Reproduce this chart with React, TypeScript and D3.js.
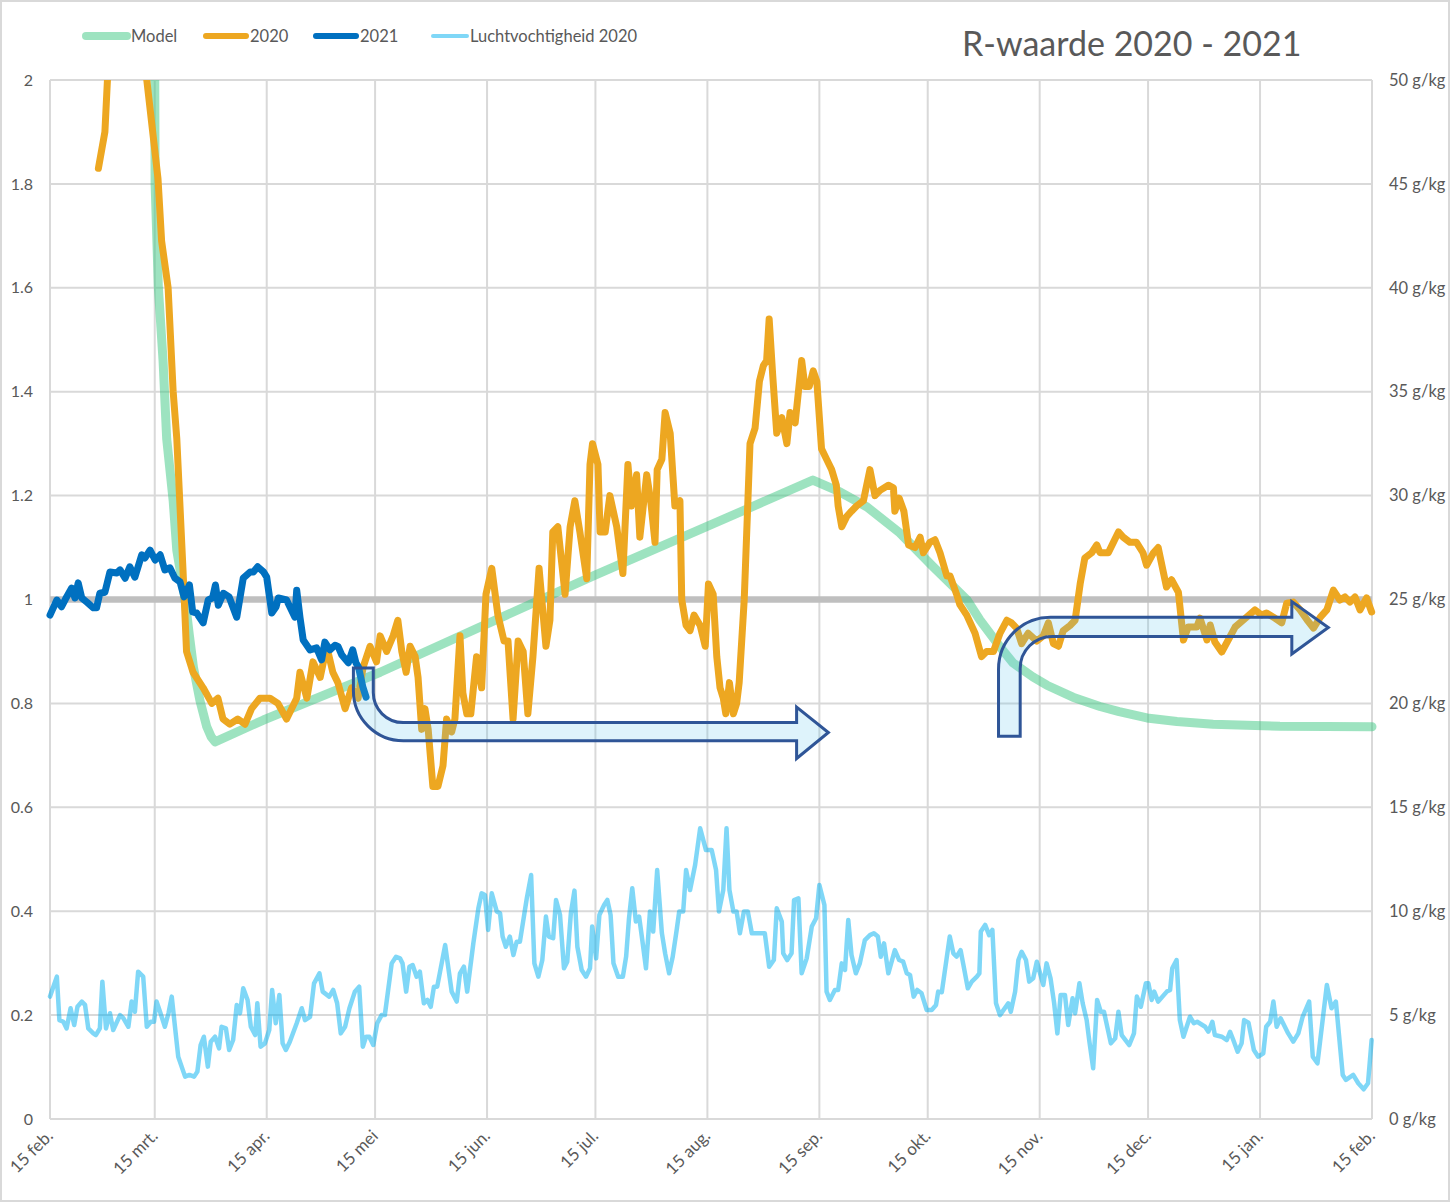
import React from 'react';
import * as d3 from 'd3';

// day offsets are counted from 15 feb. 2020
const startDate = new Date(2020, 1, 15);
const monthLabels = ['15 feb.', '15 mrt.', '15 apr.', '15 mei', '15 jun.', '15 jul.', '15 aug.', '15 sep.', '15 okt.', '15 nov.', '15 dec.', '15 jan.', '15 feb.'];

const legendNames = ['Model', '2020', '2021', 'Luchtvochtigheid 2020'];

// [day, R]
const model: [number, number][] = [
  [28.3, 2.5], [29.0, 2.0], [29.1, 1.8], [30.0, 1.6], [31.3, 1.46], [32.3, 1.31], [34.1, 1.19], [35.1, 1.095],
  [37.4, 1.0], [38.6, 0.93], [39.7, 0.87], [41.5, 0.806], [43.4, 0.755], [44.6, 0.736], [45.7, 0.726], [59.1, 0.768],
  [91.4, 0.86], [150.9, 1.047], [192.9, 1.174], [211.2, 1.23], [218.7, 1.207], [226.2, 1.178],
  [235.3, 1.128], [244.5, 1.063], [253.9, 0.999], [257.5, 0.96], [263.0, 0.909], [266.6, 0.878],
  [272.1, 0.851], [276.0, 0.835], [283.2, 0.812], [290.7, 0.794], [296.0, 0.784], [303.7, 0.772],
  [312, 0.765], [322, 0.76], [340.5, 0.756], [366, 0.755],
];

const r2020: [number, number][] = [
  [13.4, 1.83], [15.2, 1.9], [15.9, 2.0], [17.5, 2.6], [25, 2.6], [26.8, 2.0], [29.9, 1.81], [30.9, 1.69],
  [32.7, 1.6], [34.1, 1.4], [35.1, 1.31], [36.8, 1.06], [37.8, 0.9], [39.6, 0.86], [42.4, 0.83], [44.8, 0.8],
  [46.5, 0.81], [47.9, 0.77], [49.8, 0.76], [52.0, 0.77], [54.0, 0.76], [55.8, 0.79], [58.1, 0.81], [60.9, 0.81],
  [63.1, 0.8], [65.5, 0.77], [68.3, 0.81], [69.2, 0.86], [71.1, 0.81], [72.8, 0.88], [74.8, 0.85], [76.6, 0.91],
  [78.3, 0.86], [79.7, 0.84], [81.7, 0.79], [83.5, 0.83], [85.3, 0.81], [86.7, 0.87], [88.6, 0.91], [90.4, 0.88],
  [91.4, 0.93], [93.2, 0.9], [95.0, 0.93], [96.3, 0.96], [97.4, 0.9], [98.6, 0.86], [99.7, 0.91], [101.1, 0.89],
  [101.9, 0.85], [102.9, 0.75], [103.8, 0.79], [104.7, 0.75], [106.0, 0.64], [107.4, 0.64], [108.8, 0.68],
  [109.8, 0.77], [111.2, 0.745], [112.1, 0.77], [113.5, 0.93], [114.3, 0.82], [115.4, 0.78], [116.5, 0.78],
  [118.1, 0.89], [119.5, 0.83], [120.7, 1.01], [122.3, 1.06], [124.0, 0.97], [125.7, 0.92], [126.8, 0.92],
  [128.2, 0.77], [129.6, 0.92], [131.0, 0.9], [132.3, 0.78], [133.7, 0.89], [135.4, 1.06], [137.3, 0.91],
  [138.4, 0.96], [139.2, 1.13], [140.6, 1.14], [142.6, 1.01], [144.0, 1.14], [145.3, 1.19], [146.7, 1.13],
  [148.6, 1.04], [149.5, 1.26], [150.2, 1.3], [151.7, 1.26], [152.3, 1.13], [153.7, 1.13], [155.0, 1.2],
  [156.9, 1.14], [158.6, 1.05], [160.0, 1.26], [161.0, 1.18], [162.4, 1.24], [163.3, 1.12], [165.2, 1.24],
  [166.3, 1.19], [167.5, 1.11], [168.1, 1.25], [169.4, 1.27], [170.3, 1.36], [171.7, 1.32], [173.0, 1.18],
  [174.4, 1.19], [174.9, 1.0], [176.1, 0.95], [177.2, 0.94], [178.3, 0.97], [180.0, 0.95], [181.4, 0.91],
  [182.3, 1.03], [183.6, 1.01], [184.6, 0.89], [185.5, 0.83], [186.4, 0.81], [187.1, 0.78], [188.1, 0.84],
  [189.2, 0.78], [190.1, 0.8], [190.8, 0.84], [192.2, 1.0], [193.8, 1.3], [195.2, 1.33], [196.4, 1.42],
  [197.5, 1.45], [198.4, 1.46], [199.1, 1.54], [200.1, 1.43], [201.2, 1.32], [202.6, 1.35], [204.0, 1.3],
  [204.9, 1.36], [206.3, 1.34], [208.1, 1.46], [209.0, 1.41], [210.2, 1.41], [211.3, 1.44], [212.3, 1.42],
  [213.6, 1.29], [215.0, 1.27], [216.4, 1.25], [217.7, 1.22], [218.2, 1.18], [219.2, 1.14], [220.6, 1.16],
  [221.9, 1.17], [223.3, 1.18], [225.2, 1.19], [227.0, 1.25], [228.4, 1.2], [229.8, 1.21], [232.1, 1.22],
  [233.5, 1.215], [233.9, 1.17], [235.1, 1.195], [236.4, 1.17], [237.7, 1.105], [239.5, 1.1], [240.9, 1.12],
  [241.8, 1.09], [243.6, 1.11], [245.0, 1.115], [246.4, 1.09], [248.3, 1.045], [249.2, 1.045], [251.0, 1.01],
  [251.9, 0.99], [253.8, 0.97], [256.1, 0.935], [257.9, 0.89], [259.3, 0.9], [261.2, 0.9], [263.0, 0.935],
  [264.9, 0.96], [266.2, 0.955], [267.6, 0.945], [269.0, 0.915], [270.8, 0.935], [273.2, 0.92], [275.0, 0.93],
  [276.4, 0.955], [277.8, 0.915], [279.2, 0.91], [280.5, 0.94], [282.4, 0.95], [283.8, 0.96], [285.2, 1.03],
  [286.5, 1.08], [288.4, 1.09], [289.8, 1.105], [290.7, 1.09], [293.0, 1.09], [294.4, 1.11], [295.8, 1.13],
  [297.1, 1.12], [299.0, 1.11], [300.8, 1.11], [302.6, 1.09], [303.6, 1.066], [305.5, 1.09], [306.8, 1.1],
  [309.1, 1.024], [310.5, 1.038], [312.4, 1.014], [313.8, 0.922], [315.1, 0.947], [317.5, 0.947], [318.4, 0.964],
  [320.3, 0.922], [321.2, 0.951], [322.5, 0.918], [324.4, 0.899], [326.2, 0.922], [328.1, 0.947], [331.3, 0.966],
  [333.6, 0.98], [335.4, 0.97], [336.8, 0.974], [338.7, 0.966], [341.0, 0.955], [342.4, 0.993], [344.2, 0.995],
  [346.1, 0.98], [348.0, 0.961], [349.8, 0.945], [351.7, 0.966], [353.5, 0.98], [355.3, 1.018], [357.1, 0.999],
  [358.5, 1.005], [359.9, 0.995], [361.3, 1.005], [362.7, 0.98], [364.5, 1.003], [365.9, 0.976],
];

const r2021: [number, number][] = [
  [0, 0.97], [1.9, 0.999], [3.2, 0.986], [4.6, 1.005], [6.0, 1.022], [6.9, 1.003], [7.8, 1.032], [8.8, 1.003],
  [10.2, 0.995], [12.0, 0.984], [12.9, 0.984], [13.8, 1.012], [15.2, 1.014], [16.6, 1.053], [18.5, 1.051],
  [19.4, 1.057], [20.8, 1.041], [22.1, 1.063], [23.5, 1.043], [25.4, 1.086], [26.3, 1.08], [27.7, 1.095],
  [29.1, 1.076], [30.5, 1.086], [31.8, 1.057], [33.2, 1.061], [34.6, 1.041], [36.0, 1.034], [37.1, 1.005],
  [38.6, 1.028], [39.5, 0.976], [40.6, 0.974], [42.4, 0.955], [43.8, 0.999], [45.0, 1.003], [45.8, 1.028],
  [46.6, 0.989], [48.0, 1.012], [49.6, 1.005], [51.7, 0.966], [53.5, 1.041], [55.4, 1.053], [56.3, 1.053],
  [57.5, 1.063], [59.1, 1.053], [60.0, 1.043], [61.4, 0.974], [62.6, 0.986], [63.2, 1.003], [65.5, 0.999],
  [66.4, 0.986], [67.8, 0.966], [68.3, 1.018], [69.2, 0.966], [70.1, 0.922], [72.0, 0.903], [73.8, 0.907],
  [75.2, 0.884], [76.1, 0.918], [77.5, 0.903], [78.9, 0.912], [79.8, 0.909], [80.8, 0.893], [82.6, 0.878],
  [83.8, 0.903], [84.7, 0.878], [85.4, 0.87], [86.6, 0.832], [87.5, 0.812],
];

// [day, g/kg]
const humidity2020: [number, number][] = [
  [0, 5.89], [1.9, 6.85], [2.6, 4.76], [3.7, 4.68], [4.6, 4.36], [5.7, 5.33], [6.7, 4.52], [7.6, 5.4], [8.8, 5.65],
  [9.7, 5.49], [10.6, 4.36], [12.0, 4.12], [12.7, 4.04], [13.8, 4.36], [14.5, 6.61], [15.5, 4.36], [16.6, 5.09],
  [17.5, 4.28], [19.4, 5.0], [20.3, 4.85], [21.7, 4.44], [22.6, 5.65], [23.5, 5.16], [24.4, 7.09], [25.8, 6.85],
  [26.8, 4.44], [27.9, 4.68], [28.8, 4.68], [29.5, 5.65], [30.6, 5.09], [31.8, 4.44], [32.8, 5.09], [33.7, 5.89],
  [34.6, 4.44], [35.5, 3.0], [37.4, 2.04], [38.6, 2.12], [39.9, 2.04], [40.8, 2.28], [41.7, 3.56], [42.6, 3.96],
  [43.7, 2.52], [44.5, 3.72], [45.7, 3.96], [46.8, 3.4], [47.5, 4.44], [48.7, 4.36], [49.6, 3.32], [50.7, 3.8],
  [51.7, 5.49], [52.6, 5.09], [53.5, 6.29], [54.7, 5.73], [55.6, 4.44], [56.8, 4.04], [57.4, 5.57], [58.3, 3.48],
  [59.5, 3.64], [60.7, 4.28], [61.5, 6.21], [62.5, 4.61], [63.5, 5.97], [64.4, 3.64], [65.3, 3.32], [66.4, 3.72],
  [68.3, 4.61], [69.7, 5.33], [70.6, 4.76], [72.0, 4.92], [73.1, 6.53], [74.6, 7.01], [75.5, 6.13], [77.3, 5.89],
  [78.4, 6.21], [79.5, 5.57], [80.5, 4.12], [81.7, 4.44], [82.9, 5.33], [84.4, 6.13], [85.6, 6.37], [86.6, 3.48],
  [87.5, 3.96], [88.4, 3.96], [89.5, 3.56], [90.6, 4.61], [91.8, 5.0], [92.7, 5.0], [94.6, 7.49], [95.8, 7.81],
  [96.9, 7.73], [97.6, 7.49], [98.6, 6.13], [99.5, 7.33], [100.4, 7.41], [101.5, 6.85], [102.4, 7.09], [103.5, 5.57],
  [104.5, 5.73], [105.4, 5.4], [106.3, 6.37], [107.2, 6.37], [109.4, 8.37], [111.2, 6.13], [112.6, 5.65],
  [113.5, 7.01], [114.6, 7.33], [115.5, 6.13], [117.2, 8.45], [118.6, 10.14], [119.5, 10.86], [120.4, 10.78],
  [121.3, 9.1], [122.3, 10.86], [123.7, 9.98], [124.6, 9.9], [125.3, 8.78], [126.2, 8.29], [127.3, 8.78],
  [128.3, 7.89], [129.2, 8.53], [130.1, 8.53], [132.0, 10.62], [133.2, 11.74], [134.1, 7.49], [135.2, 6.85],
  [136.3, 7.65], [137.3, 9.74], [138.1, 8.78], [139.3, 8.7], [140.1, 10.54], [141.2, 9.82], [142.3, 7.25],
  [143.2, 7.57], [144.2, 9.9], [145.2, 10.99], [146.0, 8.29], [147.2, 7.17], [148.4, 6.85], [149.5, 7.25],
  [150.1, 9.26], [151.2, 7.73], [152.1, 9.82], [153.4, 10.3], [154.3, 10.54], [155.2, 9.82], [156.0, 7.49],
  [157.3, 6.85], [158.6, 6.85], [159.5, 7.81], [160.3, 9.66], [161.2, 11.1], [162.2, 9.5], [163.1, 9.74],
  [164.1, 8.45], [165.0, 7.25], [166.1, 9.98], [167.0, 9.02], [168.1, 11.98], [169.4, 8.94], [170.3, 7.97],
  [171.4, 7.01], [172.4, 7.81], [173.5, 9.1], [174.2, 9.98], [175.3, 9.98], [176.1, 11.98], [177.2, 11.02],
  [178.6, 12.22], [180.0, 13.99], [181.6, 12.94], [183.2, 12.94], [184.4, 11.98], [185.2, 9.98], [186.4, 11.02],
  [187.3, 13.99], [188.1, 11.02], [189.2, 9.98], [190.1, 9.98], [191.0, 8.94], [192.1, 9.98], [193.2, 9.98],
  [194.3, 8.94], [197.9, 8.94], [199.1, 7.33], [200.4, 7.65], [201.2, 10.14], [202.6, 9.5], [203.0, 7.97],
  [204.1, 7.65], [205.3, 7.97], [206.0, 10.54], [207.2, 10.62], [208.1, 7.01], [209.5, 7.73], [210.9, 9.26],
  [212.1, 9.66], [213.0, 11.26], [214.4, 10.3], [215.0, 6.13], [215.9, 5.73], [217.3, 6.21], [218.2, 6.21],
  [219.2, 7.49], [220.1, 7.17], [221.0, 9.58], [221.9, 7.89], [223.1, 7.01], [224.2, 7.49], [225.6, 8.61],
  [227.0, 8.85], [228.1, 8.94], [229.2, 8.78], [230.0, 7.81], [230.9, 8.45], [232.1, 7.01], [233.9, 8.13],
  [235.1, 7.65], [236.2, 7.57], [237.2, 7.01], [238.1, 6.93], [239.1, 5.89], [240.1, 6.21], [241.3, 6.05],
  [242.7, 5.25], [244.1, 5.25], [245.3, 5.49], [245.9, 6.13], [246.9, 6.1], [249.1, 8.78], [250.1, 7.97],
  [251.0, 7.81], [252.1, 8.13], [252.8, 7.49], [254.1, 6.29], [255.2, 6.61], [256.6, 6.85], [257.3, 7.01],
  [257.7, 9.02], [258.9, 9.34], [260.0, 8.85], [260.9, 9.1], [261.9, 5.57], [263.0, 5.0], [265.3, 5.57],
  [266.0, 5.16], [267.2, 6.13], [268.1, 7.65], [269.0, 8.05], [270.2, 7.65], [271.1, 6.61], [272.2, 6.77],
  [273.2, 7.57], [275.0, 6.45], [275.9, 7.49], [277.0, 6.77], [278.0, 5.57], [278.9, 4.12], [279.8, 5.97],
  [281.0, 5.97], [281.9, 4.52], [283.1, 5.81], [283.8, 5.09], [285.0, 6.53], [285.9, 5.57], [287.0, 4.76],
  [287.7, 3.8], [288.8, 2.44], [289.9, 5.73], [290.9, 5.16], [291.8, 5.16], [293.7, 3.64], [294.9, 3.88],
  [295.8, 5.16], [296.7, 4.04], [298.8, 3.56], [300.1, 4.12], [300.9, 5.89], [302.0, 5.4], [303.4, 6.53],
  [304.1, 6.53], [305.0, 5.73], [305.7, 6.13], [306.8, 5.65], [309.2, 6.13], [310.1, 6.21], [310.7, 7.25],
  [311.9, 7.65], [312.8, 4.76], [313.8, 3.96], [315.6, 4.92], [316.7, 4.61], [317.6, 4.68], [319.8, 4.44],
  [320.7, 4.2], [321.8, 4.68], [322.5, 4.04], [324.4, 3.96], [325.8, 3.8], [326.7, 4.2], [327.6, 3.8],
  [328.8, 3.24], [329.9, 3.64], [330.6, 4.76], [331.8, 4.64], [333.3, 3.32], [334.5, 3.0], [335.9, 3.16],
  [336.7, 4.44], [337.8, 4.68], [338.7, 5.65], [339.6, 4.44], [340.7, 4.85], [342.8, 4.12], [344.2, 3.72],
  [345.6, 4.12], [346.8, 4.92], [348.6, 5.65], [349.6, 3.0], [350.9, 2.68], [353.5, 6.45], [354.8, 5.33],
  [356.0, 5.65], [357.9, 2.12], [358.8, 1.88], [360.8, 2.12], [362.2, 1.72], [363.7, 1.43], [364.9, 1.72],
  [365.9, 3.8],
];

// bent arrows (annotation), in data units: stem days, band R-values, head, tip
const arrowLow = { stem: [84, 89.5], top: 0.868, band: [0.763, 0.728], headX: 206.7, head: [0.793, 0.694], tip: [215.5, 0.744], ro: 50, ri: 30 };
const arrowHigh = { stem: [262.6, 268.6], bottom: 0.737, band: [0.966, 0.929], headX: 343.8, head: [0.996, 0.895], tip: [353.9, 0.946], ro: 52, ri: 32 };

const W = 1450;
const H = 1202;
const M = { left: 50, right: 1372, top: 80, bottom: 1119 };
const grey = '#595959';
const font = 'Lato, "Open Sans", sans-serif';

const App = () => {
  const x = d3.scaleLinear().domain([0, 366]).range([M.left, M.right]);
  const yL = d3.scaleLinear().domain([0, 2]).range([M.bottom, M.top]);
  const yR = d3.scaleLinear().domain([0, 50]).range([M.bottom, M.top]);

  const tickDays = monthLabels.map((_, i) => d3.timeDay.count(startDate, new Date(2020, 1 + i, 15)));

  const lineL = d3.line<[number, number]>().x(d => x(d[0])).y(d => yL(d[1]));
  const lineR = d3.line<[number, number]>().x(d => x(d[0])).y(d => yR(d[1]));

  // arrow going down then right
  const p1 = d3.path();
  {
    const a = arrowLow;
    const L = x(a.stem[0]), R = x(a.stem[1]), T = yL(a.top);
    const Bi = yL(a.band[0]), Bo = yL(a.band[1]), Hx = x(a.headX);
    p1.moveTo(L, T);
    p1.lineTo(L, Bo - a.ro);
    p1.arcTo(L, Bo, L + a.ro, Bo, a.ro);
    p1.lineTo(Hx, Bo);
    p1.lineTo(Hx, yL(a.head[1]));
    p1.lineTo(x(a.tip[0]), yL(a.tip[1]));
    p1.lineTo(Hx, yL(a.head[0]));
    p1.lineTo(Hx, Bi);
    p1.lineTo(R + a.ri, Bi);
    p1.arcTo(R, Bi, R, Bi - a.ri, a.ri);
    p1.lineTo(R, T);
    p1.closePath();
  }
  // arrow going up then right
  const p2 = d3.path();
  {
    const a = arrowHigh;
    const L = x(a.stem[0]), R = x(a.stem[1]), B = yL(a.bottom);
    const To = yL(a.band[0]), Ti = yL(a.band[1]), Hx = x(a.headX);
    p2.moveTo(L, B);
    p2.lineTo(L, To + a.ro);
    p2.arcTo(L, To, L + a.ro, To, a.ro);
    p2.lineTo(Hx, To);
    p2.lineTo(Hx, yL(a.head[0]));
    p2.lineTo(x(a.tip[0]), yL(a.tip[1]));
    p2.lineTo(Hx, yL(a.head[1]));
    p2.lineTo(Hx, Ti);
    p2.lineTo(R + a.ri, Ti);
    p2.arcTo(R, Ti, R, Ti + a.ri, a.ri);
    p2.lineTo(R, B);
    p2.closePath();
  }

  const legend = [
    { name: legendNames[0], color: 'rgb(60,200,130)', opacity: 0.5, width: 8, x0: 86, x1: 127, tx: 131 },
    { name: legendNames[1], color: '#EDA721', opacity: 1, width: 6, x0: 206, x1: 246, tx: 250 },
    { name: legendNames[2], color: '#0070C0', opacity: 1, width: 6, x0: 316, x1: 356, tx: 360 },
    { name: legendNames[3], color: 'rgb(0,176,240)', opacity: 0.5, width: 4, x0: 433, x1: 467, tx: 470 },
  ];

  return (
    <svg width={W} height={H} style={{ position: 'absolute', left: 0, top: 0, background: '#fff' }} fontFamily={font}>
      <defs>
        <clipPath id="plot">
          <rect x={0} y={M.top} width={W} height={M.bottom - M.top} />
        </clipPath>
      </defs>
      <rect x={1} y={1} width={W - 2} height={H - 2} fill="#fff" stroke="#d9d9d9" strokeWidth={2} />

      {/* grid */}
      {yL.ticks(10).map(t => (
        <line key={'h' + t} x1={M.left} x2={M.right} y1={yL(t)} y2={yL(t)} stroke="#d9d9d9" strokeWidth={2} />
      ))}
      {tickDays.map(d => (
        <line key={'v' + d} x1={x(d)} x2={x(d)} y1={M.top} y2={M.bottom} stroke="#d9d9d9" strokeWidth={2} />
      ))}

      {/* left axis */}
      {yL.ticks(10).map(t => (
        <text key={'l' + t} x={33} y={yL(t)} dy="0.35em" textAnchor="end" fontSize={16} fill={grey}>
          {d3.format('~g')(t)}
        </text>
      ))}
      {/* right axis */}
      {yR.ticks(10).map(t => (
        <text key={'r' + t} x={1389} y={yR(t)} dy="0.35em" fontSize={16.5} fill={grey}>
          {`${t} g/kg`}
        </text>
      ))}
      {/* x axis */}
      {tickDays.map((d, i) => (
        <text key={'x' + i} transform={`translate(${x(d) + 4},${M.bottom + 18}) rotate(-45)`} textAnchor="end" fontSize={17} fill={grey}>
          {monthLabels[i]}
        </text>
      ))}

      <g clipPath="url(#plot)" fill="none" strokeLinejoin="round" strokeLinecap="round">
        <line x1={M.left} x2={M.right} y1={yL(1)} y2={yL(1)} stroke="#bfbfbf" strokeWidth={6.5} strokeLinecap="butt" />
        <path d={lineR(humidity2020) ?? ''} stroke="rgb(0,176,240)" strokeOpacity={0.5} strokeWidth={4.5} />
        <path d={lineL(model) ?? ''} stroke="rgb(60,200,130)" strokeOpacity={0.5} strokeWidth={9} />
        <path d={lineL(r2020) ?? ''} stroke="#EDA721" strokeWidth={7} />
        <path d={lineL(r2021) ?? ''} stroke="#0070C0" strokeWidth={7} />
      </g>

      <path d={p1.toString()} fill="rgb(90,195,235)" fillOpacity={0.2} stroke="#2F5597" strokeWidth={3} />
      <path d={p2.toString()} fill="rgb(90,195,235)" fillOpacity={0.2} stroke="#2F5597" strokeWidth={3} />

      {/* legend */}
      {legend.map(l => (
        <g key={l.name}>
          <line x1={l.x0} x2={l.x1} y1={36} y2={36} stroke={l.color} strokeOpacity={l.opacity} strokeWidth={l.width} strokeLinecap="round" />
          <text x={l.tx} y={36} dy="0.35em" fontSize={16.5} fill={grey}>{l.name}</text>
        </g>
      ))}

      <text x={962} y={56} fontSize={34} fill={grey}>R-waarde 2020 - 2021</text>
    </svg>
  );
};

export default App;
